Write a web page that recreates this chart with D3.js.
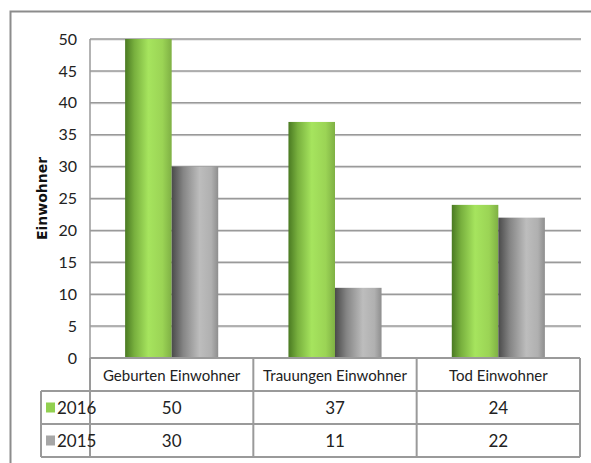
<!DOCTYPE html>
<html>
<head>
<meta charset="utf-8">
<script src="https://cdn.jsdelivr.net/npm/d3@7"></script>
<style>
  body { margin: 0; background: #fff; }
  text { font-family: Lato, "Open Sans", sans-serif; }
</style>
</head>
<body>
<div id="viz"></div>
<script>
const categories = ['Geburten Einwohner', 'Trauungen Einwohner', 'Tod Einwohner']
const years = ['2016', '2015']
const values2016 = [50, 37, 24]
const values2015 = [30, 11, 22]
const yTicks = [0, 5, 10, 15, 20, 25, 30, 35, 40, 45, 50]

const seriesList = [
  {name: years[0], values: values2016, grad: 'gGreen', swatch: '#92d050'},
  {name: years[1], values: values2015, grad: 'gGray', swatch: '#a6a6a6'}
]

let dimensions = {
  width: 591,
  height: 463,
  margin: {top: 39, right: 11, bottom: 105, left: 90}
}
dimensions.boundedWidth = dimensions.width - dimensions.margin.left - dimensions.margin.right
dimensions.boundedHeight = dimensions.height - dimensions.margin.top - dimensions.margin.bottom

const wrapper = d3.select('#viz')
  .append('svg')
  .attr('width', dimensions.width)
  .attr('height', dimensions.height)

// gradients for the cylinder-ish bars
const defs = wrapper.append('defs')
function addGrad(id, stops) {
  const g = defs.append('linearGradient').attr('id', id)
    .attr('x1', '0%').attr('x2', '100%').attr('y1', '0%').attr('y2', '0%')
  stops.forEach(s => g.append('stop').attr('offset', s[0]).attr('stop-color', s[1]))
}
addGrad('gGreen', [['0%', '#4a7a22'], ['20%', '#78b03e'], ['50%', '#a6e45e'], ['80%', '#9bd455'], ['100%', '#7fb044']])
addGrad('gGray', [['0%', '#4a4a4a'], ['25%', '#858585'], ['60%', '#bdbdbd'], ['85%', '#b0b0b0'], ['100%', '#8e8e8e']])

// outer frame
wrapper.append('rect')
  .attr('x', 10.5).attr('y', 11.5)
  .attr('width', 600).attr('height', 500)
  .attr('fill', 'none')
  .attr('stroke', '#8c8c8c')
  .attr('stroke-width', 2)

const chart = wrapper.append('g')
  .attr('transform', `translate(${dimensions.margin.left},${dimensions.margin.top})`)

// scales
const xScale = d3.scaleBand()
  .domain(categories)
  .range([0, dimensions.boundedWidth])
  .paddingInner(0)
  .paddingOuter(0)

const yScale = d3.scaleLinear()
  .domain([0, 50])
  .range([dimensions.boundedHeight, 0])

const barW = xScale.bandwidth() * 0.285

// gridlines
chart.selectAll('line.grid')
  .data(yTicks.filter(t => t > 0))
  .join('line')
  .attr('class', 'grid')
  .attr('x1', 0).attr('x2', dimensions.boundedWidth + 1)
  .attr('y1', d => yScale(d) + 1).attr('y2', d => yScale(d) + 1)
  .attr('stroke', '#d6d6d6').attr('stroke-width', 1)
chart.selectAll('line.grid2')
  .data(yTicks.filter(t => t > 0))
  .join('line')
  .attr('class', 'grid2')
  .attr('x1', 0).attr('x2', dimensions.boundedWidth + 1)
  .attr('y1', d => yScale(d)).attr('y2', d => yScale(d))
  .attr('stroke', '#9a9a9a').attr('stroke-width', 1.5)

// y axis line
chart.append('line')
  .attr('x1', 0).attr('x2', 0)
  .attr('y1', 0).attr('y2', dimensions.boundedHeight)
  .attr('stroke', '#9a9a9a').attr('stroke-width', 1.5)

// bars
seriesList.forEach((s, i) => {
  chart.selectAll(`rect.bar${i}`)
    .data(categories)
    .join('rect')
    .attr('class', `bar${i}`)
    .attr('x', d => xScale(d) + xScale.bandwidth() / 2 - barW + i * barW)
    .attr('y', (d, j) => yScale(s.values[j]))
    .attr('width', barW)
    .attr('height', (d, j) => dimensions.boundedHeight - yScale(s.values[j]))
    .attr('fill', `url(#${s.grad})`)
})

// y tick labels
const yAxis = chart.append('g')
  .call(d3.axisLeft(yScale).tickValues(yTicks).tickSize(0).tickPadding(13))
yAxis.select('.domain').remove()
yAxis.selectAll('text')
  .attr('font-size', 16)
  .attr('fill', '#222')
  .style('font-family', 'Lato, "Open Sans", sans-serif')

// y title
wrapper.append('text')
  .attr('transform', `translate(47,${dimensions.margin.top + dimensions.boundedHeight / 2}) rotate(-90)`)
  .attr('text-anchor', 'middle')
  .attr('font-size', 14)
  .attr('font-weight', 'bold')
  .style('font-family', '"DejaVu Sans", Verdana, sans-serif')
  .attr('fill', '#111')
  .text('Einwohner')

// data table
const rowH = 33
const legendX = -49
const table = chart.append('g')
  .attr('transform', `translate(0,${dimensions.boundedHeight})`)
const lineColor = '#9a9a9a'

function hLine(x1, x2, y) {
  table.append('line').attr('x1', x1).attr('x2', x2).attr('y1', y).attr('y2', y)
    .attr('stroke', lineColor).attr('stroke-width', 2)
}
function vLine(x, y1, y2) {
  table.append('line').attr('x1', x).attr('x2', x).attr('y1', y1).attr('y2', y2)
    .attr('stroke', lineColor).attr('stroke-width', 2)
}
hLine(0, dimensions.boundedWidth, 0)
hLine(legendX, dimensions.boundedWidth, rowH)
hLine(legendX, dimensions.boundedWidth, rowH * 2)
hLine(legendX, dimensions.boundedWidth, rowH * 3)
vLine(legendX, rowH, rowH * 3)
categories.forEach(c => vLine(xScale(c), 0, rowH * 3))
vLine(dimensions.boundedWidth, 0, rowH * 3)

table.selectAll('text.cat')
  .data(categories)
  .join('text')
  .attr('class', 'cat')
  .attr('x', d => xScale(d) + xScale.bandwidth() / 2)
  .attr('y', rowH / 2 + 6)
  .attr('text-anchor', 'middle')
  .attr('font-size', 15)
  .attr('fill', '#222')
  .text(d => d)

seriesList.forEach((s, i) => {
  const y = rowH * (i + 1)
  table.append('rect')
    .attr('x', legendX + 5).attr('y', y + rowH / 2 - 5)
    .attr('width', 9).attr('height', 10)
    .attr('fill', s.swatch)
  table.append('text')
    .attr('x', legendX + 16).attr('y', y + rowH / 2 + 6)
    .attr('font-size', 17).attr('fill', '#222')
    .text(s.name)
  table.selectAll(`text.v${i}`)
    .data(categories)
    .join('text')
    .attr('class', `v${i}`)
    .attr('x', d => xScale(d) + xScale.bandwidth() / 2)
    .attr('y', y + rowH / 2 + 6)
    .attr('text-anchor', 'middle')
    .attr('font-size', 17)
    .attr('fill', '#222')
    .text((d, j) => s.values[j])
})
</script>
</body>
</html>
